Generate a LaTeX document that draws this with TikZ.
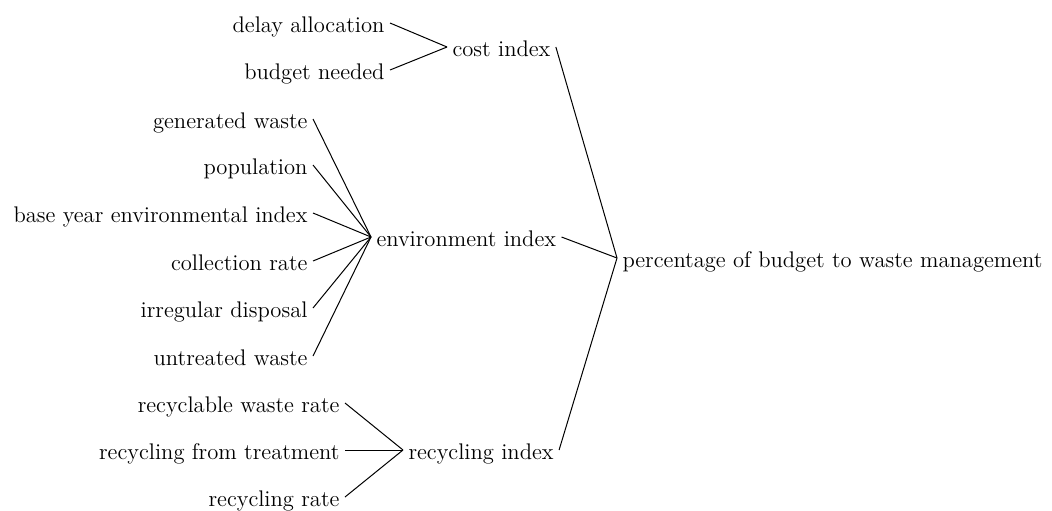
\documentclass[tikz,border=0pt]{standalone}
\usepackage{fontspec}
\usepackage{tikz}
\usetikzlibrary{positioning}
\tikzset{var/.style={inner xsep=2.5pt, inner ysep=0pt, text height=9.5pt, text depth=0.5pt,
    font=\fontsize{11.3}{13}\selectfont}}

\begin{document}
\begin{tikzpicture}[x=0.5pt, y=-0.5pt, line width=0.5pt]
          \useasboundingbox (0,0) rectangle (1052,510);
          \node[var,anchor=west] (pct) at (617,258) {percentage of budget to waste management};
          % cost
          \node[var,anchor=west] (cost) at (447,47) {cost index};
          \node[var,anchor=east] (delay) at (390,23) {delay allocation};
          \node[var,anchor=east] (need) at (390,70) {budget needed};
          % environment
          \node[var,anchor=west] (env) at (371,237) {environment index};
          \node[var,anchor=east] (gen) at (313,119) {generated waste};
          \node[var,anchor=east] (pop) at (313,165) {population};
          \node[var,anchor=east] (base) at (313,213) {base year environmental index};
          \node[var,anchor=east] (coll) at (313,261) {collection rate};
          \node[var,anchor=east] (irr) at (313,308) {irregular disposal};
          \node[var,anchor=east] (untr) at (313,356) {untreated waste};
          % recycling
          \node[var,anchor=west] (rec) at (403,450) {recycling index};
          \node[var,anchor=east] (rwr) at (345,403) {recyclable waste rate};
          \node[var,anchor=east] (rft) at (345,450) {recycling from treatment};
          \node[var,anchor=east] (rr) at (345,497) {recycling rate};
        \path (delay.east) edge (cost.west)
              (need.east) edge (cost.west)
              (gen.east) edge (env.west)
              (pop.east) edge (env.west)
              (base.east) edge (env.west)
              (coll.east) edge (env.west)
              (irr.east) edge (env.west)
              (untr.east) edge (env.west)
              (rwr.east) edge (rec.west)
              (rft.east) edge (rec.west)
              (rr.east) edge (rec.west)
              (cost.east) edge (pct.west)
              (env.east) edge (pct.west)
              (rec.east) edge (pct.west);
      \end{tikzpicture}
\end{document}
